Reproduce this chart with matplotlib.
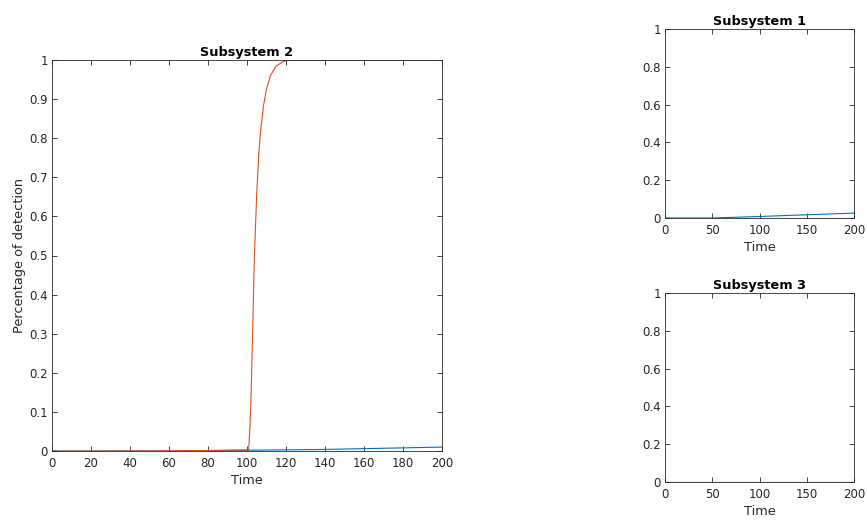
"""Detection percentage per subsystem (MATLAB-style three-panel layout)."""

import matplotlib

matplotlib.use("Agg")
import matplotlib.pyplot as plt

BLUE = "#0072BD"
ORANGE = "#D95319"
INK = "#262626"

# Subsystem 2 (large panel)
sub2_orange_t = [0, 60, 90, 100, 100.9, 101.5, 102.2, 103, 103.8, 105, 106, 107,
                 108.5, 110, 112, 115, 119, 122, 200]
sub2_orange_y = [0, 0.0005, 0.002, 0.003, 0.004, 0.06, 0.16, 0.33, 0.5, 0.66, 0.757,
                 0.82, 0.885, 0.925, 0.96, 0.985, 0.997, 1.0, 1.0]
sub2_blue_t = [0, 60, 100, 120, 140, 160, 180, 200]
sub2_blue_y = [0, 0, 0.002, 0.003, 0.004, 0.006, 0.008, 0.01]

# Subsystem 1 (top right)
sub1_blue_t = [0, 50, 100, 150, 200]
sub1_blue_y = [0, 0, 0.008, 0.017, 0.026]
sub1_orange_t = [0, 200]
sub1_orange_y = [0, 0]

# Subsystem 3 (bottom right)
sub3_blue_t = [0, 200]
sub3_blue_y = [0, 0]
sub3_orange_t = [0, 200]
sub3_orange_y = [0, 0]

main_xticks = list(range(0, 201, 20))
main_yticks = [0, 0.1, 0.2, 0.3, 0.4, 0.5, 0.6, 0.7, 0.8, 0.9, 1]
small_xticks = [0, 50, 100, 150, 200]
small_yticks = [0, 0.2, 0.4, 0.6, 0.8, 1]

plt.rcParams["font.family"] = "DejaVu Sans"

W, H = 867, 523
fig = plt.figure(figsize=(W / 100, H / 100), dpi=100)


def frac(left, top, right, bottom):
    return [left / W, 1 - bottom / H, (right - left) / W, (bottom - top) / H]


def style(ax, xticks, yticks, title):
    ax.set_xlim(0, 200)
    ax.set_ylim(0, 1)
    ax.set_xticks(xticks)
    ax.set_yticks(yticks)
    ax.set_xticklabels([f"{v:g}" for v in xticks])
    ax.set_yticklabels([f"{v:g}" for v in yticks])
    ax.tick_params(direction="in", top=True, right=True, length=3.5, width=0.6,
                   colors=INK, labelsize=8.5)
    ax.tick_params(axis="x", pad=4.5)
    ax.tick_params(axis="y", pad=3)
    for sp in ax.spines.values():
        sp.set_color(INK)
        sp.set_linewidth(0.6)
    ax.set_title(title, fontweight="bold", fontsize=9.3, color="black", pad=3)
    ax.set_xlabel("Time", fontsize=9.3, color=INK, labelpad=3)


ax2 = fig.add_axes(frac(52, 60, 442, 451))
ax2.plot(sub2_blue_t, sub2_blue_y, color=BLUE, lw=0.8)
ax2.plot(sub2_orange_t, sub2_orange_y, color=ORANGE, lw=0.8)
style(ax2, main_xticks, main_yticks, "Subsystem 2")
ax2.set_ylabel("Percentage of detection", fontsize=9.3, color=INK, labelpad=2)

ax1 = fig.add_axes(frac(665, 29, 854, 218))
ax1.plot(sub1_blue_t, sub1_blue_y, color=BLUE, lw=0.8)
ax1.plot(sub1_orange_t, sub1_orange_y, color=ORANGE, lw=0.8)
style(ax1, small_xticks, small_yticks, "Subsystem 1")

ax3 = fig.add_axes(frac(665, 293, 854, 482))
ax3.plot(sub3_blue_t, sub3_blue_y, color=BLUE, lw=0.8)
ax3.plot(sub3_orange_t, sub3_orange_y, color=ORANGE, lw=0.8)
style(ax3, small_xticks, small_yticks, "Subsystem 3")

fig.savefig("out.png", dpi=100)
plt.close(fig)
